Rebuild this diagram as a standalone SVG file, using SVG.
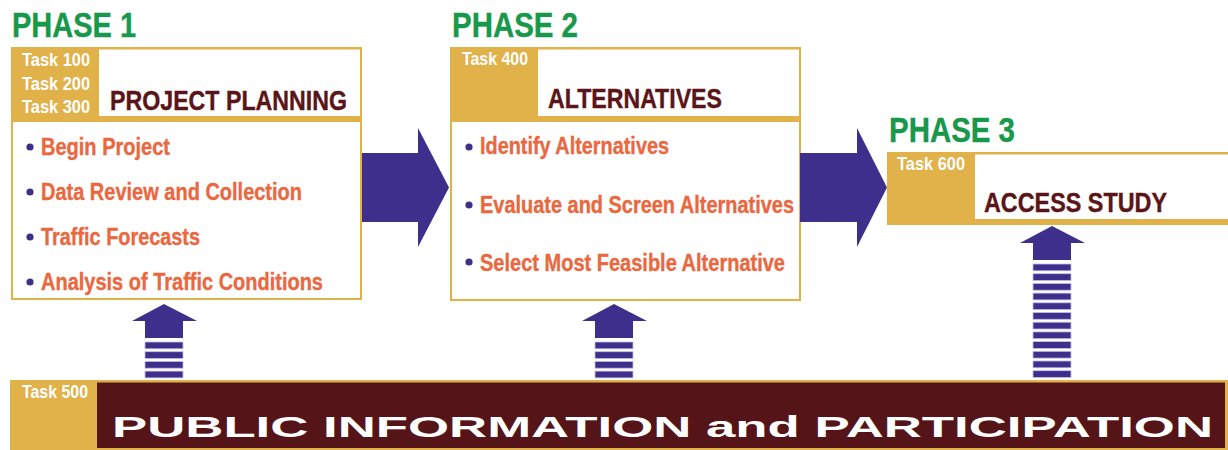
<svg xmlns="http://www.w3.org/2000/svg" xmlns:xlink="http://www.w3.org/1999/xlink" width="1228" height="450" viewBox="0 0 1228 450">
<style>
text{font-family:"Liberation Sans",Arial,sans-serif;font-weight:bold}
.phase{fill:#17984b;font-size:35px;stroke:#17984b;stroke-width:0.4}
.task{fill:#ffffff;font-size:18.5px}
.title{fill:#5a1518;font-size:28px;stroke:#5a1518;stroke-width:0.4}
.item{fill:#e9683f;font-size:23px;stroke:#e9683f;stroke-width:0.35}
.dot{fill:#3f2f8c}
.gold{fill:#e1b14a}
.white{fill:#ffffff}
.body{fill:#ffffff;stroke:#e1b14a;stroke-width:2}
.arrow{fill:#3f2f8c}
.bar{fill:#3f2f8c;stroke:#c4bfe3;stroke-width:0.8}
.banner{fill:#fff;font-size:29px}
</style>
<defs>
<g id="upHead" class="arrow"><polygon points="-32,17 0,0 33,17"/><rect x="-19" y="16" width="38" height="18"/></g>
<rect id="bar" class="bar" x="-19" y="0" width="38" height="6.8"/>
</defs>
<rect width="1228" height="450" fill="#ffffff"/>

<g id="phase1">
<text class="phase" x="12" y="37" textLength="124" lengthAdjust="spacingAndGlyphs">PHASE 1</text>
<rect class="gold" x="11" y="47" width="351" height="74"/>
<rect class="white" x="99" y="49.5" width="261" height="66.5"/>
<rect class="body" x="12" y="121" width="349" height="178"/>
<text class="task" x="22" y="66" textLength="68" lengthAdjust="spacingAndGlyphs">Task 100</text>
<text class="task" x="22" y="90" textLength="68" lengthAdjust="spacingAndGlyphs">Task 200</text>
<text class="task" x="22" y="113" textLength="68" lengthAdjust="spacingAndGlyphs">Task 300</text>
<text class="title" x="110" y="110" textLength="237" lengthAdjust="spacingAndGlyphs">PROJECT PLANNING</text>
<circle class="dot" cx="30" cy="147" r="3.6"/>
<circle class="dot" cx="30" cy="192" r="3.6"/>
<circle class="dot" cx="30" cy="237" r="3.6"/>
<circle class="dot" cx="30" cy="282" r="3.6"/>
<text class="item" x="41" y="155" textLength="129" lengthAdjust="spacingAndGlyphs">Begin Project</text>
<text class="item" x="41" y="200" textLength="261" lengthAdjust="spacingAndGlyphs">Data Review and Collection</text>
<text class="item" x="41" y="245" textLength="159" lengthAdjust="spacingAndGlyphs">Traffic Forecasts</text>
<text class="item" x="41" y="290" textLength="282" lengthAdjust="spacingAndGlyphs">Analysis of Traffic Conditions</text>
</g>

<g id="phase2">
<text class="phase" x="452" y="37" textLength="126" lengthAdjust="spacingAndGlyphs">PHASE 2</text>
<rect class="gold" x="450" y="47" width="351" height="74"/>
<rect class="white" x="538" y="49.5" width="261" height="66.5"/>
<rect class="body" x="451" y="121" width="349" height="179"/>
<text class="task" x="462" y="65" textLength="66" lengthAdjust="spacingAndGlyphs">Task 400</text>
<text class="title" x="548" y="108" textLength="174" lengthAdjust="spacingAndGlyphs">ALTERNATIVES</text>
<circle class="dot" cx="469" cy="147" r="3.6"/>
<circle class="dot" cx="469" cy="205" r="3.6"/>
<circle class="dot" cx="469" cy="262" r="3.6"/>
<text class="item" x="480" y="154" textLength="189" lengthAdjust="spacingAndGlyphs">Identify Alternatives</text>
<text class="item" x="480" y="213" textLength="314" lengthAdjust="spacingAndGlyphs">Evaluate and Screen Alternatives</text>
<text class="item" x="480" y="271" textLength="305" lengthAdjust="spacingAndGlyphs">Select Most Feasible Alternative</text>
</g>

<g id="phase3">
<text class="phase" x="889" y="142" textLength="126" lengthAdjust="spacingAndGlyphs">PHASE 3</text>
<rect class="gold" x="887" y="152" width="341" height="73"/>
<rect class="white" x="975" y="154.5" width="253" height="64.5"/>
<text class="task" x="897" y="170" textLength="68" lengthAdjust="spacingAndGlyphs">Task 600</text>
<text class="title" x="984" y="212" textLength="183" lengthAdjust="spacingAndGlyphs">ACCESS STUDY</text>
</g>

<g id="task500">
<rect class="gold" x="10" y="380" width="1218" height="70"/>
<rect x="97" y="382.5" width="1128" height="65.5" fill="#541418"/>
<text class="task" x="22" y="398" textLength="66" lengthAdjust="spacingAndGlyphs">Task 500</text>
<text class="banner" x="112" y="437" textLength="1101" lengthAdjust="spacingAndGlyphs">PUBLIC INFORMATION and PARTICIPATION</text>
</g>

<g id="connectors">
<polygon class="arrow" points="362,153 418,153 418,128 449,187.5 418,247 418,222 362,222"/>
<polygon class="arrow" points="800,153 857,153 857,128 887,187.5 857,247 857,222 800,222"/>
<g transform="translate(164,304)">
<use xlink:href="#upHead"/>
<use xlink:href="#bar" y="38"/><use xlink:href="#bar" y="47.7"/><use xlink:href="#bar" y="57.4"/><use xlink:href="#bar" y="67.1"/>
</g>
<g transform="translate(614,304)">
<use xlink:href="#upHead"/>
<use xlink:href="#bar" y="38"/><use xlink:href="#bar" y="47.7"/><use xlink:href="#bar" y="57.4"/><use xlink:href="#bar" y="67.1"/>
</g>
<g transform="translate(1052,226)">
<use xlink:href="#upHead"/>
<use xlink:href="#bar" y="38"/><use xlink:href="#bar" y="47.7"/><use xlink:href="#bar" y="57.4"/><use xlink:href="#bar" y="67.1"/>
<use xlink:href="#bar" y="76.8"/><use xlink:href="#bar" y="86.5"/><use xlink:href="#bar" y="96.2"/><use xlink:href="#bar" y="105.9"/>
<use xlink:href="#bar" y="115.6"/><use xlink:href="#bar" y="125.3"/><use xlink:href="#bar" y="135"/><use xlink:href="#bar" y="144.7"/>
</g>
</g>
</svg>
